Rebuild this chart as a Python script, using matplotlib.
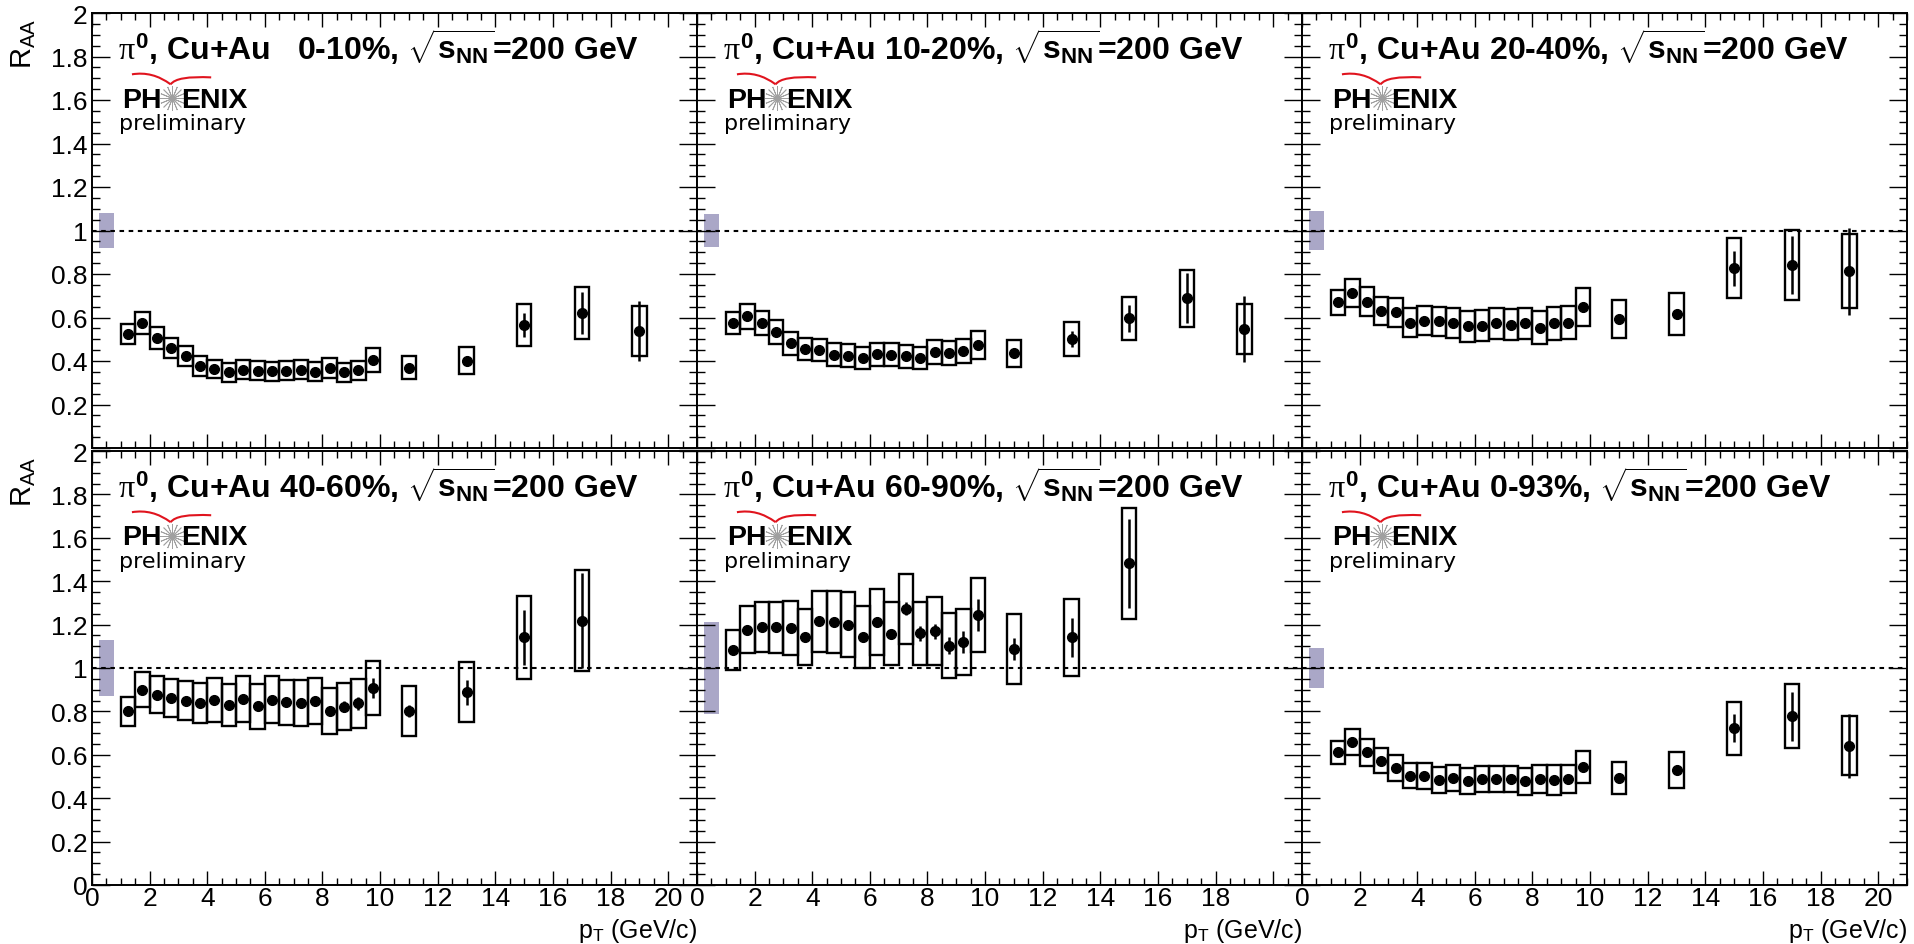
import matplotlib
matplotlib.use('Agg')
import matplotlib.pyplot as plt
from matplotlib.path import Path
from matplotlib.patches import PathPatch
from matplotlib.ticker import MultipleLocator, FuncFormatter

plt.rcParams['font.family'] = ['Liberation Sans', 'DejaVu Sans']
plt.rcParams['mathtext.fontset'] = 'custom'
plt.rcParams['mathtext.rm'] = 'Liberation Sans'
plt.rcParams['mathtext.bf'] = 'Liberation Sans:bold'
plt.rcParams['mathtext.it'] = 'Liberation Serif'
plt.rcParams['mathtext.fallback'] = 'cm'

# pT bin centres (GeV/c)
pt = [1.25, 1.75, 2.25, 2.75, 3.25, 3.75, 4.25, 4.75, 5.25, 5.75, 6.25, 6.75,
      7.25, 7.75, 8.25, 8.75, 9.25, 9.75, 11, 13, 15, 17, 19]

centralities = ['  0-10%', '10-20%', '20-40%', '40-60%', '60-90%', '0-93%']
norm_unc = [0.082, 0.078, 0.09, 0.13, 0.21, 0.09]

raa_0_10 = [0.524, 0.573, 0.505, 0.459, 0.421, 0.378, 0.363, 0.348, 0.360, 0.355, 0.352, 0.355,
            0.360, 0.351, 0.368, 0.348, 0.357, 0.404, 0.369, 0.401, 0.567, 0.620, 0.536]
stat_0_10 = [0.008, 0.008, 0.008, 0.008, 0.008, 0.008, 0.008, 0.008, 0.008, 0.008, 0.008, 0.008,
             0.009, 0.009, 0.010, 0.011, 0.012, 0.016, 0.015, 0.022, 0.055, 0.097, 0.138]
sys_0_10 = [0.044, 0.050, 0.050, 0.046, 0.046, 0.046, 0.043, 0.044, 0.044, 0.044, 0.044, 0.044,
            0.044, 0.044, 0.045, 0.045, 0.045, 0.054, 0.052, 0.063, 0.096, 0.119, 0.115]

raa_10_20 = [0.574, 0.605, 0.574, 0.534, 0.481, 0.455, 0.450, 0.429, 0.424, 0.413, 0.432, 0.429,
             0.421, 0.412, 0.440, 0.436, 0.447, 0.475, 0.435, 0.501, 0.596, 0.688, 0.547]
stat_10_20 = [0.008, 0.008, 0.008, 0.008, 0.008, 0.008, 0.008, 0.008, 0.008, 0.008, 0.009, 0.009,
              0.009, 0.010, 0.011, 0.012, 0.013, 0.020, 0.015, 0.035, 0.063, 0.115, 0.150]
sys_10_20 = [0.050, 0.056, 0.056, 0.054, 0.052, 0.051, 0.051, 0.053, 0.053, 0.052, 0.053, 0.052,
             0.052, 0.051, 0.055, 0.055, 0.056, 0.064, 0.063, 0.077, 0.100, 0.130, 0.115]

raa_20_40 = [0.669, 0.712, 0.672, 0.631, 0.623, 0.577, 0.585, 0.583, 0.574, 0.559, 0.562, 0.573,
             0.567, 0.574, 0.554, 0.573, 0.577, 0.649, 0.593, 0.616, 0.827, 0.841, 0.812]
stat_20_40 = [0.008, 0.008, 0.008, 0.008, 0.008, 0.008, 0.008, 0.008, 0.008, 0.009, 0.009, 0.009,
              0.010, 0.010, 0.011, 0.012, 0.014, 0.022, 0.012, 0.022, 0.080, 0.134, 0.200]
sys_20_40 = [0.056, 0.065, 0.067, 0.065, 0.067, 0.065, 0.067, 0.067, 0.070, 0.071, 0.071, 0.071,
             0.070, 0.071, 0.074, 0.075, 0.077, 0.087, 0.086, 0.096, 0.138, 0.160, 0.170]

raa_40_60 = [0.800, 0.899, 0.877, 0.863, 0.849, 0.839, 0.853, 0.831, 0.857, 0.823, 0.854, 0.842,
             0.839, 0.846, 0.803, 0.822, 0.837, 0.908, 0.803, 0.888, 1.141, 1.218]
stat_40_60 = [0.010, 0.010, 0.010, 0.010, 0.010, 0.010, 0.010, 0.012, 0.012, 0.012, 0.013, 0.014,
              0.015, 0.020, 0.020, 0.025, 0.030, 0.045, 0.028, 0.058, 0.128, 0.220]
sys_40_60 = [0.067, 0.081, 0.086, 0.088, 0.090, 0.094, 0.100, 0.097, 0.106, 0.104, 0.107, 0.104,
             0.104, 0.106, 0.107, 0.109, 0.113, 0.124, 0.115, 0.138, 0.192, 0.234]

raa_60_90 = [1.083, 1.177, 1.190, 1.187, 1.183, 1.144, 1.215, 1.210, 1.200, 1.141, 1.214, 1.157,
             1.272, 1.160, 1.169, 1.103, 1.121, 1.244, 1.088, 1.141, 1.482]
stat_60_90 = [0.012, 0.012, 0.012, 0.012, 0.013, 0.013, 0.014, 0.015, 0.016, 0.018, 0.020, 0.020,
              0.030, 0.035, 0.035, 0.040, 0.050, 0.074, 0.052, 0.090, 0.206]
sys_60_90 = [0.090, 0.107, 0.116, 0.119, 0.125, 0.130, 0.142, 0.143, 0.150, 0.143, 0.152, 0.145,
             0.161, 0.146, 0.156, 0.150, 0.151, 0.169, 0.160, 0.179, 0.256]

raa_0_93 = [0.611, 0.661, 0.611, 0.573, 0.539, 0.504, 0.501, 0.485, 0.493, 0.478, 0.488, 0.488,
            0.488, 0.478, 0.488, 0.484, 0.488, 0.544, 0.493, 0.531, 0.722, 0.777, 0.642]
stat_0_93 = [0.006, 0.006, 0.006, 0.006, 0.006, 0.006, 0.006, 0.006, 0.006, 0.006, 0.007, 0.007,
             0.007, 0.008, 0.008, 0.009, 0.010, 0.020, 0.012, 0.020, 0.065, 0.114, 0.147]
sys_0_93 = [0.053, 0.060, 0.061, 0.058, 0.059, 0.058, 0.060, 0.060, 0.062, 0.060, 0.061, 0.061,
            0.061, 0.061, 0.065, 0.067, 0.065, 0.073, 0.073, 0.084, 0.123, 0.147, 0.136]

panels = [
    (raa_0_10, stat_0_10, sys_0_10),
    (raa_10_20, stat_10_20, sys_10_20),
    (raa_20_40, stat_20_40, sys_20_40),
    (raa_40_60, stat_40_60, sys_40_60),
    (raa_60_90, stat_60_90, sys_60_90),
    (raa_0_93, stat_0_93, sys_0_93),
]

W, H = 1915, 945
fig = plt.figure(figsize=(W / 100, H / 100), dpi=100)
fig.patch.set_facecolor('white')

col_left = [92, 697, 1302]
col_width = 605
row_top = [14, 452]
row_height = [435, 434]


def draw_logo(ax):
    tr = ax.transAxes
    # red swoosh over the logo
    left_arm = Path([(0.066, 0.859), (0.100, 0.867), (0.130, 0.836)],
                    [Path.MOVETO, Path.CURVE3, Path.CURVE3])
    right_arm = Path([(0.130, 0.836), (0.140, 0.856), (0.197, 0.852)],
                     [Path.MOVETO, Path.CURVE3, Path.CURVE3])
    for p in (left_arm, right_arm):
        ax.add_patch(PathPatch(p, transform=tr, fill=False, edgecolor='#e0141e', lw=1.5,
                               clip_on=False))
    ax.text(0.1150, 0.7846, 'PH', transform=tr, ha='right', va='baseline',
            fontsize=20.5, fontweight='bold')
    ax.plot([0.1317], [0.804], transform=tr, marker=(16, 2, 0), ms=18,
            mec='#a0a0a0', mew=0.6, clip_on=False)
    ax.text(0.147, 0.7846, 'ENIX', transform=tr, ha='left', va='baseline',
            fontsize=20.5, fontweight='bold')
    ax.text(0.044, 0.733, 'preliminary', transform=tr, ha='left', va='baseline',
            fontsize=16, family='DejaVu Sans')


def fmt_y(hide_zero):
    def f(v, pos):
        if hide_zero and abs(v) < 1e-9:
            return ''
        return f'{v:g}'
    return FuncFormatter(f)


def fmt_x(hide_20):
    def f(v, pos):
        if hide_20 and abs(v - 20) < 1e-9:
            return ''
        return f'{v:g}'
    return FuncFormatter(f)


for i, (raa, stat, sys_err) in enumerate(panels):
    r, c = divmod(i, 3)
    rect = [col_left[c] / W, 1 - (row_top[r] + row_height[r]) / H,
            col_width / W, row_height[r] / H]
    ax = fig.add_axes(rect)
    x = pt[:len(raa)]

    ax.set_xlim(0, 21)
    ax.set_ylim(0, 2)

    # global normalisation uncertainty
    ax.bar([0.5], [2 * norm_unc[i]], bottom=[1 - norm_unc[i]], width=0.5,
           color='#aaa7c7', linewidth=0, zorder=1)
    ax.axhline(1, color='black', ls=(0, (2.2, 2.2)), lw=1.5, zorder=2)

    # systematic boxes
    ax.bar(x, [2 * s for s in sys_err], bottom=[v - s for v, s in zip(raa, sys_err)],
           width=0.5, fill=False, edgecolor='black', linewidth=1.7, zorder=3)
    # points with statistical errors
    ax.errorbar(x, raa, yerr=stat, fmt='o', color='black', ms=7, elinewidth=1.8,
                capsize=0, zorder=4)

    ax.text(0.043, 0.894,
            r'$\pi^{\mathbf{0}}$, Cu+Au ' + centralities[i] + r', $\sqrt{\mathbf{s}_{\mathbf{NN}}}$=200 GeV',
            transform=ax.transAxes, ha='left', va='baseline', fontsize=23, fontweight='bold')
    draw_logo(ax)

    ax.xaxis.set_major_locator(MultipleLocator(2))
    ax.xaxis.set_minor_locator(MultipleLocator(0.5))
    ax.yaxis.set_major_locator(MultipleLocator(0.2))
    ax.yaxis.set_minor_locator(MultipleLocator(0.05))
    ax.tick_params(which='both', direction='in', top=True, right=True, width=1.0)
    ax.tick_params(axis='x', which='major', length=10, pad=0.5, labelsize=19)
    ax.tick_params(axis='x', which='minor', length=5)
    ax.tick_params(axis='y', which='major', length=13, pad=3, labelsize=19)
    ax.tick_params(axis='y', which='minor', length=6)
    for sp in ax.spines.values():
        sp.set_linewidth(1.4)

    if c == 0:
        ax.yaxis.set_major_formatter(fmt_y(r == 0))
        ax.text(-0.112, 0.99, r'R$_{\mathrm{AA}}$', transform=ax.transAxes, rotation=90,
                ha='center', va='top', fontsize=21)
    else:
        ax.tick_params(axis='y', labelleft=False)
    if r == 1:
        ax.xaxis.set_major_formatter(fmt_x(c == 1))
        ax.text(1.0, -0.1198, r'p$_{\mathrm{T}}$ (GeV/c)', transform=ax.transAxes,
                ha='right', va='baseline', fontsize=18)
    else:
        ax.tick_params(axis='x', labelbottom=False)

fig.savefig('out.png', dpi=100, facecolor='white')
